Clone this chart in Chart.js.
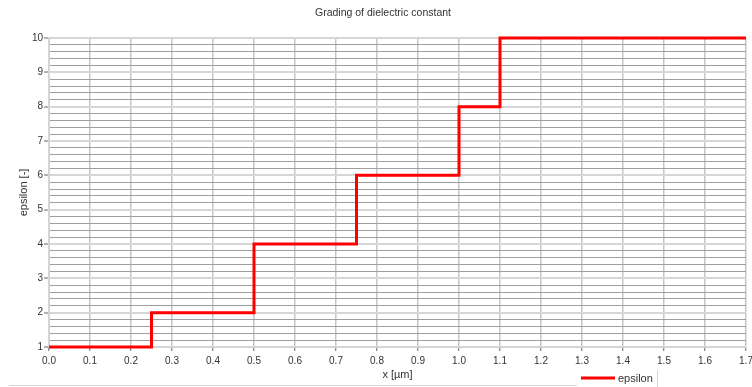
<!DOCTYPE html>
<html>
<head>
<meta charset="utf-8">
<script src="https://cdn.jsdelivr.net/npm/chart.js@4/dist/chart.umd.min.js"></script>
<style>
  html, body { margin: 0; padding: 0; background: #ffffff; }
  #wrap { width: 752px; height: 387px; }
</style>
</head>
<body>
<div id="wrap"><canvas id="chart" width="752" height="387"></canvas></div>
<script>
// Layer boundaries along x [µm] and the permittivity that starts at each one
const xEdges  = [0.0, 0.25, 0.5, 0.75, 1.0, 1.1, 1.7];
const epsilon = [1,   2,    4,   6,    8,   10,  10];

// Axis tick labels
const xTickValues = [0.0, 0.1, 0.2, 0.3, 0.4, 0.5, 0.6, 0.7, 0.8, 0.9, 1.0, 1.1, 1.2, 1.3, 1.4, 1.5, 1.6, 1.7];
const xTickLabels = ['0.0', '0.1', '0.2', '0.3', '0.4', '0.5', '0.6', '0.7', '0.8', '0.9', '1.0', '1.1', '1.2', '1.3', '1.4', '1.5', '1.6', '1.7'];
const yTickValues = [1, 2, 3, 4, 5, 6, 7, 8, 9, 10];
const yTickLabels = ['1', '2', '3', '4', '5', '6', '7', '8', '9', '10'];
const yMinorStep = 0.2;

const FONT = "'Liberation Sans', Arial, sans-serif";
const TEXT = '#333333';

const isMajorY = v => yTickValues.some(t => Math.abs(t - v) < 1e-6);

// Legend drawn beside the x-axis title, plus the thin frame lines at the bottom edge
const bottomLegend = {
  id: 'bottomLegend',
  afterDraw(chart) {
    const ctx = chart.ctx;
    const ds = chart.data.datasets[0];
    ctx.save();
    ctx.strokeStyle = '#d4d4d4';
    ctx.lineWidth = 1;
    ctx.beginPath();
    ctx.moveTo(9, 385.5); ctx.lineTo(577, 385.5);
    ctx.moveTo(657.5, 370); ctx.lineTo(657.5, 387);
    ctx.stroke();
    ctx.strokeStyle = ds.borderColor;
    ctx.lineWidth = 3;
    ctx.beginPath();
    ctx.moveTo(581, 378); ctx.lineTo(615, 378);
    ctx.stroke();
    ctx.fillStyle = TEXT;
    ctx.font = '11px ' + FONT;
    ctx.textBaseline = 'middle';
    ctx.textAlign = 'left';
    ctx.fillText(ds.label, 618, 379);
    ctx.restore();
  }
};

new Chart(document.getElementById('chart'), {
  type: 'line',
  data: {
    datasets: [{
      label: 'epsilon',
      data: xEdges.map((x, i) => ({ x: x, y: epsilon[i] })),
      stepped: 'before',
      borderColor: '#ff0000',
      borderWidth: 3,
      borderJoinStyle: 'miter',
      pointRadius: 0,
      fill: false,
      clip: false
    }]
  },
  options: {
    responsive: false,
    animation: false,
    layout: { padding: { left: 20, right: 6, top: 0, bottom: 0 } },
    plugins: {
      legend: { display: false },
      tooltip: { enabled: false },
      title: {
        display: true,
        text: 'Grading of dielectric constant',
        color: TEXT,
        font: { family: FONT, size: 10.5, weight: 'normal' },
        padding: { top: 7, bottom: 18.4 }
      }
    },
    scales: {
      x: {
        type: 'linear',
        min: 0,
        max: 1.7,
        afterBuildTicks: s => { s.ticks = xTickValues.map(v => ({ value: v })); },
        afterFit: s => { s.height = 40; s.paddingLeft = 0; s.paddingRight = 0; },
        ticks: {
          autoSkip: false,
          maxRotation: 0,
          padding: 4,
          color: TEXT,
          font: { family: FONT, size: 10 },
          callback: (v, i) => xTickLabels[i]
        },
        grid: {
          color: '#c6c6c6',
          lineWidth: 1.5,
          tickLength: 4,
          tickColor: '#666666',
          tickWidth: 1
        },
        border: { color: '#d4d4d4', width: 2 },
        title: {
          display: true,
          text: 'x [µm]',
          color: TEXT,
          font: { family: FONT, size: 11 },
          padding: { top: 0, bottom: 5 }
        }
      },
      y: {
        type: 'linear',
        min: 1,
        max: 10,
        afterBuildTicks: s => {
          const t = [];
          const n = Math.round((s.max - s.min) / yMinorStep);
          for (let k = 0; k <= n; k++) t.push({ value: +(s.min + k * yMinorStep).toFixed(6) });
          s.ticks = t;
        },
        afterFit: s => { s.width = 29; s.paddingTop = 0; s.paddingBottom = 0; },
        ticks: {
          autoSkip: false,
          padding: 1,
          color: TEXT,
          font: { family: FONT, size: 10 },
          callback: v => {
            const i = yTickValues.findIndex(t => Math.abs(t - v) < 1e-6);
            return i >= 0 ? yTickLabels[i] : '';
          }
        },
        grid: {
          color: c => isMajorY(c.tick.value) ? '#d6d6d6' : '#9e9e9e',
          lineWidth: c => isMajorY(c.tick.value) ? 2 : 1,
          tickLength: 5,
          tickColor: c => isMajorY(c.tick.value) ? '#666666' : 'rgba(0,0,0,0)',
          tickWidth: 1
        },
        border: { color: '#d4d4d4', width: 2 },
        title: {
          display: true,
          text: 'epsilon [-]',
          color: TEXT,
          font: { family: FONT, size: 11 },
          padding: { top: -3, bottom: 0 }
        }
      }
    }
  },
  plugins: [bottomLegend]
});
</script>
</body>
</html>
